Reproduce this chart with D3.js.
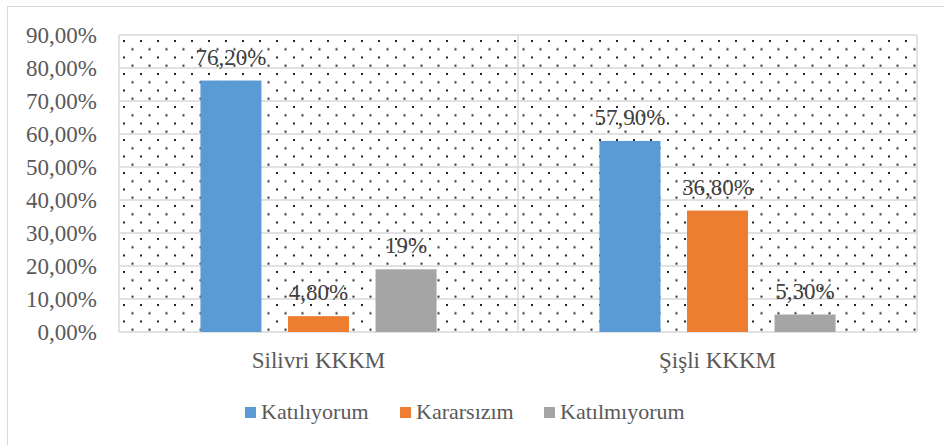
<!DOCTYPE html>
<html>
<head>
<meta charset="utf-8">
<script src="https://cdn.jsdelivr.net/npm/d3@7"></script>
<style>
  html, body { margin: 0; padding: 0; background: #fff; }
  svg text { font-family: "Liberation Serif", "Times New Roman", serif; }
</style>
</head>
<body>
<svg id="chart" width="944" height="445"></svg>
<script>
// Data -------------------------------------------------------------
const categories = ["Silivri KKKM", "Şişli KKKM"];
const seriesNames = ["Katılıyorum", "Kararsızım", "Katılmıyorum"];
const values = [
  [0.762, 0.048, 0.19],
  [0.579, 0.368, 0.053]
];
const labels = [
  ["76,20%", "4,80%", "19%"],
  ["57,90%", "36,80%", "5,30%"]
];
const yTicks = [0, 0.1, 0.2, 0.3, 0.4, 0.5, 0.6, 0.7, 0.8, 0.9];

// Layout -----------------------------------------------------------
const plot = { left: 119, right: 917, top: 35, bottom: 332 };
const colors = ["#5b9bd5", "#ed7d31", "#a5a5a5"];
const FONT = "'Liberation Serif', 'Times New Roman', serif";

const svg = d3.select("#chart");

// Outer chart border (only top/left visible in frame)
svg.append("rect")
  .attr("x", 7.5).attr("y", 6.5)
  .attr("width", 960).attr("height", 460)
  .attr("fill", "none")
  .attr("stroke", "#d9d9d9");

// Dot pattern ------------------------------------------------------
const defs = svg.append("defs");
const pat = defs.append("pattern")
  .attr("id", "dots")
  .attr("patternUnits", "userSpaceOnUse")
  .attr("x", 123).attr("y", 40)
  .attr("width", 17).attr("height", 16.5);
pat.append("rect").attr("x", 0).attr("y", 0).attr("width", 2).attr("height", 2).attr("fill", "#222");
pat.append("rect").attr("x", 8.5).attr("y", 8.25).attr("width", 2).attr("height", 2).attr("fill", "#222");

// Scales -----------------------------------------------------------
const x0 = d3.scaleBand()
  .domain(categories)
  .range([plot.left, plot.right])
  .padding(0);

const x1 = d3.scaleBand()
  .domain(seriesNames)
  .range([0, x0.bandwidth()])
  .paddingInner(0.303)
  .paddingOuter(0.93);

const y = d3.scaleLinear()
  .domain([0, 0.9])
  .range([plot.bottom, plot.top]);

// Plot background
svg.append("rect")
  .attr("x", plot.left).attr("y", plot.top)
  .attr("width", plot.right - plot.left)
  .attr("height", plot.bottom - plot.top)
  .attr("fill", "url(#dots)");

// Gridlines --------------------------------------------------------
svg.append("g")
  .selectAll("line")
  .data(yTicks)
  .join("line")
  .attr("x1", plot.left).attr("x2", plot.right)
  .attr("y1", d => y(d)).attr("y2", d => y(d))
  .attr("stroke", "#d9d9d9")
  .attr("stroke-width", 1.5);

// Vertical separators
svg.append("g")
  .selectAll("line")
  .data([plot.left, x0(categories[1]), plot.right])
  .join("line")
  .attr("x1", d => d).attr("x2", d => d)
  .attr("y1", plot.top).attr("y2", plot.bottom)
  .attr("stroke", "#d9d9d9")
  .attr("stroke-width", 1.5);

// Y axis -----------------------------------------------------------
const fmtTick = d => d3.format(".2f")(d * 100).replace(".", ",") + "%";
const yAxis = svg.append("g")
  .attr("transform", `translate(${plot.left},0)`)
  .call(d3.axisLeft(y).tickValues(yTicks).tickFormat(fmtTick).tickSize(0).tickPadding(22));
yAxis.attr("font-family", FONT).attr("font-size", 23);
yAxis.select(".domain").remove();
yAxis.selectAll("text").attr("fill", "#595959");

// X axis -----------------------------------------------------------
const xAxis = svg.append("g")
  .attr("transform", `translate(0,${plot.bottom})`)
  .call(d3.axisBottom(x0).tickSize(0).tickPadding(20));
xAxis.attr("font-family", FONT).attr("font-size", 23);
xAxis.select(".domain").remove();
xAxis.selectAll("text").attr("fill", "#595959");

// Bars -------------------------------------------------------------
const groups = svg.append("g")
  .selectAll("g")
  .data(categories)
  .join("g")
  .attr("transform", d => `translate(${x0(d)},0)`);

groups.selectAll("rect")
  .data((d, i) => seriesNames.map((s, j) => ({ s, j, v: values[i][j] })))
  .join("rect")
  .attr("x", d => x1(d.s))
  .attr("width", x1.bandwidth())
  .attr("y", d => y(d.v))
  .attr("height", d => y(0) - y(d.v))
  .attr("fill", d => colors[d.j]);

groups.selectAll("text")
  .data((d, i) => seriesNames.map((s, j) => ({ s, v: values[i][j], t: labels[i][j] })))
  .join("text")
  .attr("x", d => x1(d.s) + x1.bandwidth() / 2)
  .attr("y", d => y(d.v) - 16)
  .attr("text-anchor", "middle")
  .attr("fill", "#404040")
  .attr("font-family", FONT)
  .attr("font-size", 23)
  .text(d => d.t);

// Legend -----------------------------------------------------------
const legendX = [245, 400, 544];
const legend = svg.append("g")
  .selectAll("g")
  .data(seriesNames)
  .join("g")
  .attr("transform", (d, i) => `translate(${legendX[i]},407)`);

legend.append("rect")
  .attr("width", 11).attr("height", 11)
  .attr("fill", (d, i) => colors[i]);

legend.append("text")
  .attr("x", 16).attr("y", 12)
  .attr("fill", "#595959")
  .attr("font-family", FONT)
  .attr("font-size", 22)
  .text(d => d);
</script>
</body>
</html>
